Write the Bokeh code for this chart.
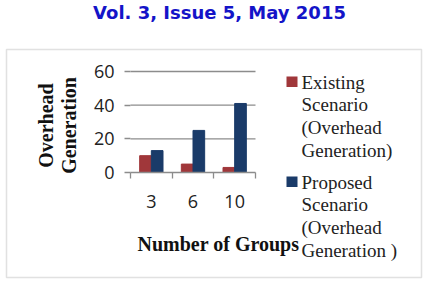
from bokeh.plotting import figure
from bokeh.models import Range1d, FixedTicker, LinearAxis, Label, BoxAnnotation, ColumnDataSource
from bokeh.embed import file_html
from bokeh.resources import INLINE
import numpy as np

groups = ["3", "6", "10"]
existing = [10, 5, 3]
proposed = [13, 25, 41]
y_ticks = [0, 20, 40, 60]
series_names = ["Existing Scenario (Overhead Generation)", "Proposed Scenario (Overhead Generation )"]
series_lines = [["Existing", "Scenario", "(Overhead", "Generation)"],
                ["Proposed", "Scenario", "(Overhead", "Generation )"]]
colors = ["#A0373A", "#1A3B69"]
title_text = "Vol. 3, Issue 5, May 2015"
x_title = "Number of Groups"
y_title_lines = ["Overhead", "Generation"]

W, H = 427, 282
# plot area in page pixels (from top-left)
L, R, T, B = 130, 255, 71, 172
n = len(groups)
ymax = y_ticks[-1]

# whole canvas is the frame; main ranges are page pixels (y downwards)
p = figure(width=W, height=H, output_backend="svg", toolbar_location=None,
           x_range=Range1d(0, W), y_range=Range1d(H, 0),
           x_axis_type=None, y_axis_type=None,
           min_border=0, min_border_left=0, min_border_right=0,
           min_border_top=0, min_border_bottom=0)
p.outline_line_color = None
p.background_fill_color = "white"
p.border_fill_color = "white"
p.xgrid.visible = False
p.ygrid.visible = False

# chart ranges mapped onto plot area
sx = n / (R - L)
sy = ymax / (B - T)
p.extra_x_ranges = {"gx": Range1d(-L * sx, n + (W - R) * sx)}
p.extra_y_ranges = {"gy": Range1d(-(H - B) * sy, ymax + T * sy)}

# gridlines
p.segment(x0=[0] * (len(y_ticks) - 1), x1=[n] * (len(y_ticks) - 1),
          y0=y_ticks[1:], y1=y_ticks[1:], x_range_name="gx", y_range_name="gy",
          line_color="#8c8c8c", line_width=1.3)

centers = np.arange(n) + 0.5
src = ColumnDataSource(dict(xe=centers - 0.14, xp=centers + 0.14, e=existing, pr=proposed))
p.vbar(x="xe", top="e", width=0.28, source=src, color=colors[0],
       x_range_name="gx", y_range_name="gy")
p.vbar(x="xp", top="pr", width=0.28, source=src, color=colors[1],
       x_range_name="gx", y_range_name="gy")

# y axis
ya = LinearAxis(x_range_name="gx", y_range_name="gy", fixed_location=0,
                ticker=FixedTicker(ticks=y_ticks, minor_ticks=[]), bounds=(0, ymax))
ya.axis_line_color = None
ya.major_tick_line_color = "#8c8c8c"
ya.major_tick_line_width = 1.3
ya.major_tick_in = 0
ya.major_tick_out = 6
ya.minor_tick_line_color = None
ya.major_label_text_font = "Open Sans"
ya.major_label_text_font_size = "18px"
ya.major_label_text_color = "#222222"
ya.major_label_standoff = 10
p.add_layout(ya, "left")

# x axis: labels at category centers, tick marks at boundaries
xa = LinearAxis(x_range_name="gx", y_range_name="gy", fixed_location=0, bounds=(0, n),
                ticker=FixedTicker(ticks=list(centers), minor_ticks=list(range(n + 1))),
                major_label_overrides={float(c): g for c, g in zip(centers, groups)})
xa.axis_line_color = "#8c8c8c"
xa.axis_line_width = 1.3
xa.major_tick_line_color = None
xa.major_tick_in = 0
xa.major_tick_out = 0
xa.minor_tick_line_color = "#8c8c8c"
xa.minor_tick_line_width = 1.3
xa.minor_tick_in = 0
xa.minor_tick_out = 6
xa.major_label_text_font = "Open Sans"
xa.major_label_text_font_size = "18px"
xa.major_label_text_color = "#222222"
xa.major_label_standoff = 16
p.add_layout(xa, "below")

# outer box
p.add_layout(BoxAnnotation(left=6, right=421, top=49, bottom=277,
                           fill_color=None, line_color="#9a9a9a", line_width=1.5))

p.add_layout(Label(x=219, y=12, text=title_text,
                   text_font="DejaVu Sans", text_font_style="bold", text_font_size="18px",
                   text_color="#1414C8", text_align="center", text_baseline="middle"))

p.add_layout(Label(x=137, y=243, text=x_title,
                   text_font="Liberation Serif", text_font_style="bold", text_font_size="20px",
                   text_color="#111111", text_align="left", text_baseline="middle"))

for i, line in enumerate(y_title_lines):
    p.add_layout(Label(x=45 + i * 23, y=125, text=line,
                       angle=np.pi / 2, text_font="Liberation Serif", text_font_style="bold",
                       text_font_size="20px", text_color="#111111",
                       text_align="center", text_baseline="middle"))

for k, lines in enumerate(series_lines):
    y0 = 81.5 + k * 100
    p.add_layout(BoxAnnotation(left=286, right=297, top=y0 - 5.5, bottom=y0 + 5,
                               fill_color=colors[k], fill_alpha=1, line_color=None))
    for j, t in enumerate(lines):
        p.add_layout(Label(x=301, y=y0 + j * 22.8, text=t,
                           text_font="Liberation Serif", text_font_size="19px",
                           text_color="#222222", text_align="left", text_baseline="middle"))

open("out.html", "w").write(file_html(p, INLINE))
